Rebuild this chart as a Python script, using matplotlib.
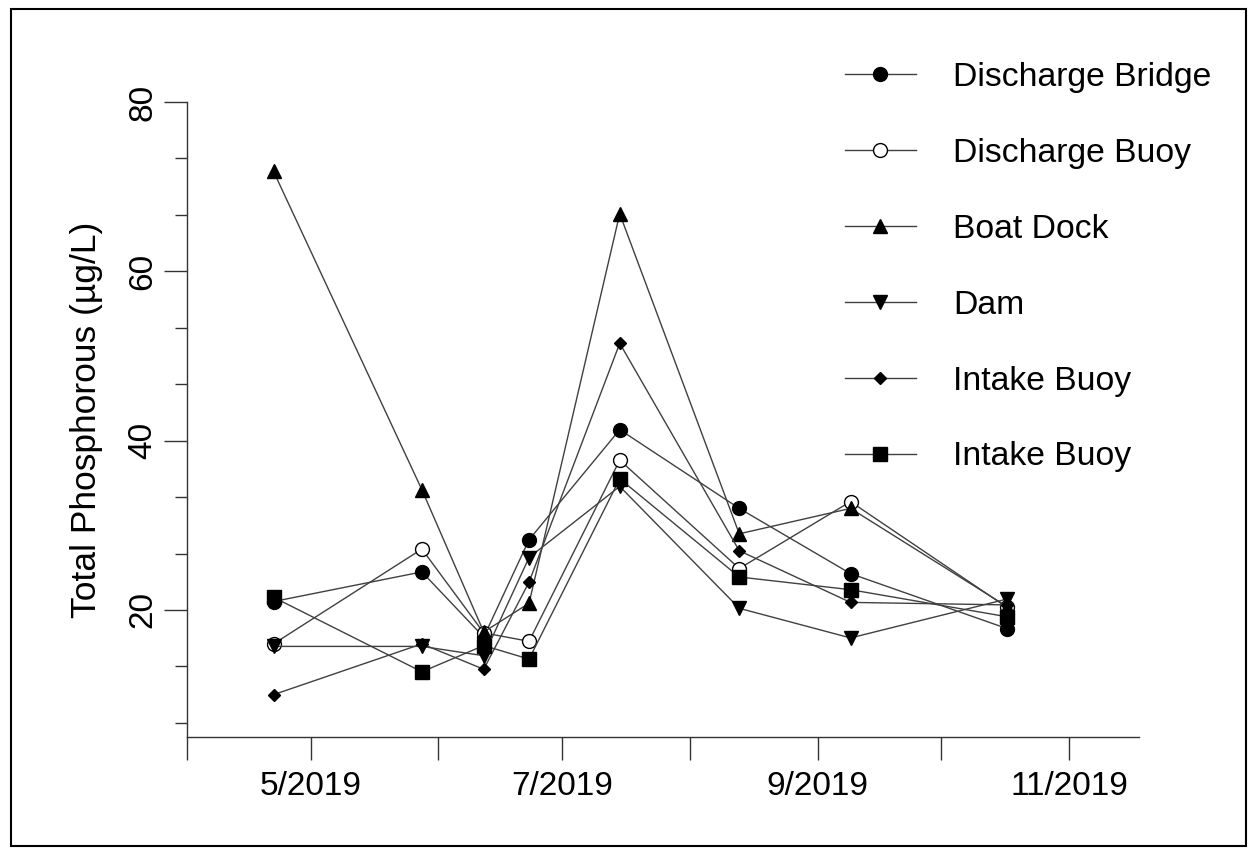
import matplotlib.pyplot as plt
import matplotlib.dates as mdates
from matplotlib.ticker import MultipleLocator
from matplotlib.patches import Rectangle
import numpy as np

plt.rcParams['font.family'] = ['Liberation Sans', 'DejaVu Sans']

# Fechas de muestreo y fosforo total (ug/L) por sitio
fechas = np.array(['2019-04-22', '2019-05-28', '2019-06-12', '2019-06-23',
                   '2019-07-15', '2019-08-13', '2019-09-09', '2019-10-17'],
                  dtype='datetime64[D]')
discharge_bridge = [21.0, 24.5, 16.8, 28.3, 41.3, 32.0, 24.3, 17.8]
discharge_buoy = [16.0, 27.2, 17.3, 16.3, 37.7, 24.9, 32.8, 20.3]
boat_dock = [71.8, 34.2, 17.4, 20.8, 66.8, 29.0, 32.0, 20.4]
dam = [15.7, 15.7, 14.6, 26.2, 34.6, 20.2, 16.7, 21.3]
intake_buoy_1 = [10.0, 16.0, 13.0, 23.3, 51.5, 27.0, 20.9, 20.6]
intake_buoy_2 = [21.5, 12.7, 15.8, 14.2, 35.5, 23.9, 22.4, 19.2]

etiquetas = ['Discharge Bridge', 'Discharge Buoy', 'Boat Dock', 'Dam',
             'Intake Buoy', 'Intake Buoy']

W, H = 1257, 856
fig = plt.figure(figsize=(W / 100, H / 100), dpi=100)

# ejes en pixeles: izquierda 187, derecha 1139, arriba 102, abajo 737
ax = fig.add_axes([187 / W, (H - 737) / H, (1139 - 187) / W, (737 - 102) / H])

linea = '#404040'
series = [
    (discharge_bridge, dict(marker='o', ms=10, mfc='black')),
    (discharge_buoy, dict(marker='o', ms=10, mfc='white')),
    (boat_dock, dict(marker='^', ms=10, mfc='black')),
    (dam, dict(marker='v', ms=10, mfc='black')),
    (intake_buoy_1, dict(marker='D', ms=6.5, mfc='black')),
    (intake_buoy_2, dict(marker='s', ms=9.5, mfc='black')),
]
for (valores, estilo), nombre in zip(series, etiquetas):
    ax.plot(fechas, valores, color=linea, lw=1.0, mec='black', mew=1.0,
            label=nombre, **estilo)

ax.set_xlim(np.datetime64('2019-04-01'), np.datetime64('2019-11-18'))
ax.set_ylim(5, 80)

ax.xaxis.set_major_locator(mdates.MonthLocator(bymonth=[5, 7, 9, 11]))
ax.xaxis.set_minor_locator(mdates.MonthLocator(bymonth=[4, 6, 8, 10]))
ax.xaxis.set_major_formatter(mdates.DateFormatter('%-m/%Y'))
ax.yaxis.set_major_locator(MultipleLocator(20))
ax.yaxis.set_minor_locator(MultipleLocator(20 / 3))

for lado in ['top', 'right']:
    ax.spines[lado].set_visible(False)
for lado in ['left', 'bottom']:
    ax.spines[lado].set_color('#333333')
    ax.spines[lado].set_linewidth(1.0)

ax.tick_params(axis='x', which='both', direction='out', length=16.5,
               width=1.0, color='#333333', labelsize=24, pad=8)
ax.tick_params(axis='y', which='major', direction='out', length=16.5,
               width=1.0, color='#333333', labelsize=24, pad=4, labelrotation=90)
ax.tick_params(axis='y', which='minor', direction='out', length=8.5,
               width=1.0, color='#333333')
for t in ax.get_yticklabels():
    t.set_va('center')

ax.set_ylabel('Total Phosphorous (µg/L)', fontsize=25.5, labelpad=18)

ax.legend(loc='upper left', bbox_to_anchor=(845 / W, 1 - 62 / H),
          bbox_transform=fig.transFigure, frameon=False, fontsize=24.3,
          handlelength=2.1, handletextpad=1.1, labelspacing=1.33,
          borderpad=0, borderaxespad=0)

# marco alrededor de toda la figura
fig.patches.append(Rectangle((11 / W, 1 - 846 / H), (1246 - 11) / W,
                             (846 - 9) / H, transform=fig.transFigure,
                             fill=False, ec='black', lw=1.5))

fig.savefig('out.png', dpi=100)
plt.close(fig)
